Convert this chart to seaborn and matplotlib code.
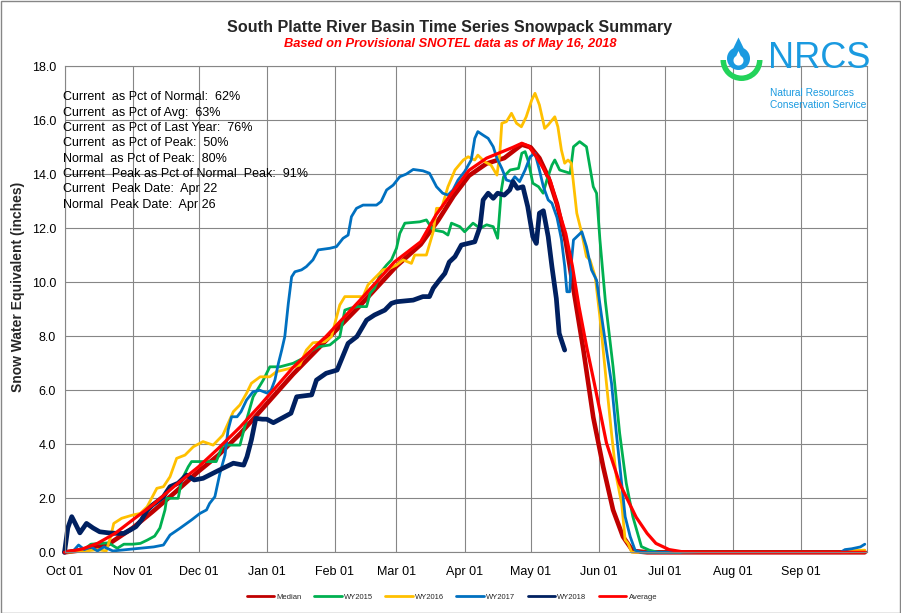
import numpy as np
import pandas as pd
import matplotlib
matplotlib.use("Agg")
import matplotlib.pyplot as plt
from matplotlib.lines import Line2D
from matplotlib.patches import Rectangle, Wedge, Polygon
from matplotlib import font_manager
import seaborn as sns

# ---------------- data (day = days since Oct 01) ----------------
series_names = ["Median", "WY2015", "WY2016", "WY2017", "WY2018", "Average"]
series_colors = ["#C00000", "#00B050", "#FFC000", "#0070C0", "#002060", "#FF0000"]

median_day = [0, 10, 20, 31, 40, 50, 61, 70, 80, 92, 104, 119, 134, 151, 162, 170, 177, 184,
              192, 200, 204, 208, 212, 216, 220, 224, 228, 231, 236, 240.5, 245, 249.5, 254,
              258.5, 265, 364]
median_swe = [0, 0.1, 0.3, 0.9, 1.5, 2.2, 3.0, 3.6, 4.4, 5.5, 6.6, 7.85, 9.1, 10.6, 11.4, 12.3,
              13.2, 13.95, 14.4, 14.6, 14.85, 15.1, 15.0, 14.6, 13.9, 12.9, 11.5, 10.0, 7.5, 5.0,
              3.17, 1.57, 0.58, 0.05, 0, 0]

average_day = [0, 8, 15, 23, 31, 40, 50, 61, 70, 80, 89, 104, 119, 134, 150, 162, 169, 177, 184,
               192, 199.5, 204, 208, 211, 214.6, 218, 221, 225, 228, 231, 234, 237.5, 241, 246.5,
               252.5, 260, 265, 269, 275, 281, 290, 364]
average_swe = [0, 0.12, 0.33, 0.7, 1.2, 1.75, 2.45, 3.17, 3.85, 4.65, 5.45, 6.85, 8.0, 9.3, 10.75,
               11.5, 12.5, 13.4, 14.15, 14.6, 14.85, 15.0, 15.15, 15.05, 14.65, 14.2, 13.75, 12.6,
               11.8, 10.6, 9.1, 7.6, 6.25, 4.05, 2.55, 1.3, 0.7, 0.33, 0.1, 0.02, 0.0, 0.0]

wy2015_day = [0, 8, 12, 20, 24, 27, 31, 34.5, 37.6, 41, 43.4, 45.7, 46.5, 51.7, 53.3, 56.3, 57.8,
              69, 72, 79.8, 82.8, 85.8, 90.4, 93.4, 98, 104, 108.6, 111.6, 115.4, 120.7, 125.2,
              127.5, 130, 133.5, 137.4, 139, 141, 144, 146.5, 148.7, 151, 152.5, 154.8, 161.6,
              164.6, 167.6, 172.2, 174.4, 176, 179.8, 182, 185.8, 189, 192, 195, 197, 198.7,
              199.7, 202.7, 206.5, 208, 209.5, 211, 213, 215.6, 217.7, 219.4, 221.7, 223, 225.2,
              227.5, 230, 231.5, 234.3, 237.4, 240.5, 242, 243.5, 246, 249.5, 252.5, 255.5,
              258.5, 262.4, 266, 270, 364]
wy2015_swe = [0, 0.05, 0.3, 0.35, 0.15, 0.3, 0.3, 0.33, 0.45, 0.6, 0.9, 1.57, 2.0, 2.0, 2.68,
              3.17, 3.36, 3.36, 3.97, 3.97, 4.9, 5.76, 6.38, 6.87, 6.87, 7.0, 7.19, 7.43, 7.61,
              7.68, 7.98, 8.97, 9.04, 9.1, 9.1, 9.59, 9.78, 10.39, 10.64, 10.83, 11.26, 11.81,
              12.19, 12.24, 12.31, 11.94, 11.87, 11.75, 12.19, 12.06, 11.87, 12.19, 12.0, 12.13,
              12.06, 11.63, 13.42, 13.91, 14.16, 14.22, 14.78, 14.84, 14.47, 13.67, 13.54, 13.3,
              13.79, 14.34, 14.53, 14.16, 14.1, 14.04, 15.02, 15.21, 15.02, 13.54, 13.3, 11.6,
              9.3, 6.87, 4.41, 2.56, 1.32, 0.21, 0.08, 0, 0]

wy2016_day = [0, 10, 15, 19, 21, 22.4, 26, 31, 34.5, 37.6, 42, 45, 48, 51, 54.8, 58.6, 63, 67.6,
              72, 76.8, 79.8, 82.8, 85, 89, 93.4, 96.4, 102.5, 107, 110, 113, 118.4, 121.4, 123,
              125.2, 127.5, 135.8, 138, 141, 144.8, 148, 151, 154, 157.8, 159.3, 164.6, 167.7,
              169.2, 171.5, 174.4, 177.6, 181.4, 183.6, 186.6, 188, 191, 194, 196.7, 198, 198.9,
              201, 203.3, 205.6, 207.8, 210, 212.5, 214, 216, 218.4, 220, 223, 224.4, 226, 227.5,
              229, 230.5, 233, 235.3, 237.4, 239, 241.4, 243.5, 246.5, 248.8, 251, 253.4, 255,
              256.3, 258, 356, 358, 364]
wy2016_swe = [0, 0.05, 0.1, 0.05, 0.58, 1.07, 1.26, 1.38, 1.44, 1.69, 2.37, 2.43, 2.8, 3.48, 3.6,
              3.91, 4.1, 3.97, 4.34, 5.21, 5.46, 5.89, 6.26, 6.5, 6.5, 6.69, 6.81, 6.94, 7.49, 7.76,
              7.8, 7.99, 8.48, 9.16, 9.47, 9.47, 9.9, 10.15, 10.46, 10.52, 10.64, 10.83, 10.7,
              11.01, 11.01, 11.87, 12.74, 12.74, 13.54, 14.16, 14.53, 14.65, 14.53, 14.71, 14.47,
              14.34, 13.97, 14.78, 15.89, 15.95, 16.26, 15.89, 15.76, 16.13, 16.75, 17.0, 16.57,
              15.7, 15.83, 16.13, 15.76, 14.9, 14.41, 14.53, 14.41, 12.56, 11.81, 10.95, 10.83,
              10.2, 8.73, 6.26, 4.41, 2.8, 1.81, 0.46, 0.33, 0, 0, 0.06, 0.08]

wy2017_day = [0, 4, 6.4, 9, 12, 15, 18, 22, 40.6, 45, 48, 52.5, 57.8, 61.6, 64.6, 66, 68.4, 70.7,
              73, 74.4, 76, 78.5, 80.3, 82.8, 85.8, 88.9, 92, 94, 95.7, 97.3, 98.8, 100.2, 101.8,
              103.3, 104.8, 107.8, 110, 113, 115.4, 120.7, 123.7, 126.7, 129, 130.5, 132.8, 135.8,
              141.9, 144, 146.5, 149.5, 152.5, 155.5, 158.6, 163, 166, 169.2, 172, 174.4, 176.7,
              179, 182, 185, 186.6, 188, 190.4, 192.7, 195, 196.7, 198.9, 201, 203.3, 204.8, 207,
              209.5, 211.8, 214, 216, 217.8, 220, 221.7, 224, 226, 227.5, 228.5, 229.8, 230.5,
              231.5, 233.8, 235.3, 237.4, 239.7, 242, 244.3, 246.5, 248.8, 251, 253.4, 255, 257.3,
              259.5, 262, 353, 355, 358, 362, 364]
wy2017_swe = [0, 0.05, 0.27, 0.1, 0.2, 0.05, 0.2, 0.05, 0.2, 0.27, 0.64, 0.89, 1.2, 1.44, 1.57,
              1.81, 2.06, 2.93, 3.6, 4.53, 5.02, 5.02, 5.21, 5.64, 5.95, 6.0, 5.9, 6.01, 6.38, 7.0,
              7.49, 7.99, 9.22, 10.2, 10.39, 10.46, 10.58, 10.83, 11.2, 11.26, 11.32, 11.63, 11.75,
              12.43, 12.74, 12.86, 12.86, 12.99, 13.42, 13.6, 13.91, 14.01, 14.18, 14.13, 14.04,
              13.54, 13.3, 13.23, 13.42, 13.79, 14.1, 14.53, 15.33, 15.58, 15.45, 15.33, 15.02,
              14.59, 14.22, 13.79, 13.73, 13.91, 13.73, 14.16, 14.65, 14.78, 14.16, 13.54, 13.05,
              12.93, 12.4, 11.6, 10.6, 9.65, 9.65, 10.7, 11.57, 11.75, 11.87, 11.32, 10.46, 10.08,
              8.73, 7.49, 6.26, 4.41, 2.56, 1.32, 0.58, 0.08, 0, 0, 0.1, 0.13, 0.2, 0.3]

wy2018_day = [0, 1.5, 3.3, 5, 7, 10, 13, 16, 20, 24, 27, 30, 32.5, 35, 37.5, 40, 42, 45, 48, 51.7,
              55.5, 59, 63, 67.6, 72, 76.8, 80, 81.5, 83, 85, 87, 90, 92, 95, 99.6, 103, 105.6,
              112.4, 114.6, 119, 124, 129, 133, 137.4, 141, 145.7, 148.7, 151, 158.6, 163, 166,
              167.7, 170.7, 173, 175, 177.6, 180.5, 186.6, 189, 190.4, 192.7, 195, 197, 200,
              202.5, 204, 206, 208.5, 210.7, 213, 214.6, 216, 217.8, 220, 221.7, 223.7, 225, 227.5]
wy2018_swe = [0, 0.9, 1.32, 1.05, 0.72, 1.07, 0.9, 0.76, 0.72, 0.7, 0.7, 0.83, 0.95, 1.2, 1.55,
              1.75, 1.87, 2.06, 2.43, 2.56, 2.86, 2.68, 2.74, 2.93, 3.11, 3.3, 3.25, 3.23, 3.54,
              4.16, 4.96, 4.93, 4.93, 4.8, 5.0, 5.15, 5.76, 5.83, 6.38, 6.63, 6.75, 7.74, 7.99, 8.6,
              8.79, 8.97, 9.22, 9.28, 9.34, 9.47, 9.47, 9.78, 10.1, 10.33, 10.75, 10.95, 11.38,
              11.5, 12.06, 13.05, 13.3, 13.11, 13.3, 13.23, 13.42, 13.73, 13.48, 13.54, 12.8, 11.69,
              11.44, 12.56, 12.65, 11.69, 10.58, 9.4, 8.11, 7.49]

month_labels = ["Oct 01", "Nov 01", "Dec 01", "Jan 01", "Feb 01", "Mar 01",
                "Apr 01", "May 01", "Jun 01", "Jul 01", "Aug 01", "Sep 01"]
y_ticks = [0, 2, 4, 6, 8, 10, 12, 14, 16, 18]

stats_lines = ["Current  as Pct of Normal:  62%",
               "Current  as Pct of Avg:  63%",
               "Current  as Pct of Last Year:  76%",
               "Current  as Pct of Peak:  50%",
               "Normal  as Pct of Peak:  80%",
               "Current  Peak as Pct of Normal  Peak:  91%",
               "Current  Peak Date:  Apr 22",
               "Normal  Peak Date:  Apr 26"]

title_text = "South Platte River Basin Time Series Snowpack Summary"
subtitle_text = "Based on Provisional SNOTEL data as of May 16, 2018"
ylabel_text = "Snow Water Equivalent (inches)"

# ---------------- build long table ----------------
day_lists = [median_day, wy2015_day, wy2016_day, wy2017_day, wy2018_day, average_day]
swe_lists = [median_swe, wy2015_swe, wy2016_swe, wy2017_swe, wy2018_swe, average_swe]
frames = []
for name, d, v in zip(series_names, day_lists, swe_lists):
    frames.append(pd.DataFrame({"day": d, "swe": v, "series": name}))
df = pd.concat(frames, ignore_index=True)

widths = {"Median": 3.3, "WY2015": 2.0, "WY2016": 2.0, "WY2017": 2.0, "WY2018": 3.4, "Average": 2.3}

# ---------------- figure ----------------
sns.set_theme(style="white")
available = {f.name for f in font_manager.fontManager.ttflist}
narrow = "Liberation Sans Narrow" if "Liberation Sans Narrow" in available else "Liberation Sans"
plt.rcParams['font.family'] = ['Liberation Sans', 'DejaVu Sans']

W, H = 901, 613
fig = plt.figure(figsize=(W / 100, H / 100), dpi=100)
fig.patch.set_facecolor("white")

x0, x1, ytop, ybot = 64.5, 867.0, 66.3, 552.3
ax = fig.add_axes([x0 / W, (H - ybot) / H, (x1 - x0) / W, (ybot - ytop) / H])

for name, col in zip(series_names, series_colors):
    sub = df[df["series"] == name]
    sns.lineplot(data=sub, x="day", y="swe", ax=ax, color=col, linewidth=widths[name],
                 estimator=None, sort=False, legend=False)
    ax.lines[-1].set_clip_on(False)
    ax.lines[-1].set_solid_joinstyle("round")

start = pd.Timestamp("2017-10-01")
month_starts = pd.date_range(start, periods=12, freq="MS")
tick_pos = [(m - start).days for m in month_starts]

ax.set_xlim(0, 365)
ax.set_ylim(0, 18)
ax.set_xticks(tick_pos)
ax.set_xticklabels(month_labels)
ax.set_yticks(y_ticks)
ax.set_yticklabels([f"{t:.1f}" for t in y_ticks])
ax.set_xlabel("")
ax.set_ylabel("")
gridc = "#868686"
ax.grid(True, color=gridc, linewidth=0.8)
ax.set_axisbelow(True)
for s in ax.spines.values():
    s.set_color(gridc)
    s.set_linewidth(0.8)
ax.tick_params(axis="y", length=4, width=0.8, color=gridc, direction="out", labelsize=9,
               pad=2, labelcolor="black")
ax.tick_params(axis="x", length=0, labelsize=9, pad=10, labelcolor="black")

# y label
fig.text(18 / W, 1 - 287 / H, ylabel_text, rotation=90, ha="center", va="center",
         fontsize=10, fontweight="bold", family=[narrow, "DejaVu Sans"])

# titles
fig.text(450 / W, 1 - 27.5 / H, title_text, ha="center", va="center", fontsize=11.6,
         fontweight="bold", family=[narrow, "DejaVu Sans"])
fig.text(450 / W, 1 - 43.5 / H, subtitle_text, ha="center", va="center", fontsize=9.3,
         fontweight="bold", style="italic", color="#FF0000", family=[narrow, "DejaVu Sans"])

# stats text
for i, line in enumerate(stats_lines):
    fig.text(63 / W, 1 - (97.5 + 15.3 * i) / H, line, ha="left", va="center", fontsize=9,
             color="black")

# legend
handles = [Line2D([0], [0], color=c, lw=2.0) for c in series_colors]
fig.legend(handles, series_names, loc="center", bbox_to_anchor=(452 / W, 1 - 597 / H), ncol=6,
           frameon=False, fontsize=5.5, handlelength=3.6, handletextpad=0.3,
           columnspacing=1.6)

# NRCS logo
lx0, lx1, ly0, ly1 = 712, 772, 30, 88
lax = fig.add_axes([lx0 / W, (H - ly1) / H, (lx1 - lx0) / W, (ly1 - ly0) / H])
lax.set_xlim(lx0, lx1)
lax.set_ylim(ly1, ly0)
lax.axis("off")
logo_blue = "#1A9AE0"
lax.add_patch(Wedge((741.5, 60.0), 21.0, 0, 180, width=5.5, color="#22D35A", lw=0))
t = np.linspace(-0.35 * np.pi, 1.35 * np.pi, 60)
cx, cy, r = 738.5, 58.5, 11.5
drop = np.column_stack([cx + r * np.cos(t), cy + r * np.sin(t)])
drop = np.vstack([drop, [[cx, 37.5]]])
lax.add_patch(Polygon(drop, closed=True, color=logo_blue, lw=0))
r2 = 5.0
drop2 = np.column_stack([cx + r2 * np.cos(t), cy + 2 + r2 * np.sin(t)])
drop2 = np.vstack([drop2, [[cx, 51]]])
lax.add_patch(Polygon(drop2, closed=True, color="white", lw=0))

fig.text(768 / W, 1 - 58 / H, "NRCS", ha="left", va="center", fontsize=26, color=logo_blue,
         family=[narrow, "DejaVu Sans"])
fig.text(770 / W, 1 - 93 / H, "Natural Resources", ha="left", va="center", fontsize=7.3,
         color=logo_blue, family=[narrow, "DejaVu Sans"])
fig.text(770 / W, 1 - 105 / H, "Conservation Service", ha="left", va="center", fontsize=7.3,
         color=logo_blue, family=[narrow, "DejaVu Sans"])

# figure border
fig.patches.append(Rectangle((0.5 / W, 0.5 / H), 1 - 1.5 / W, 1 - 1.5 / H, transform=fig.transFigure,
                             fill=False, edgecolor="#868686", lw=1.0))

fig.savefig("out.png", dpi=100)
